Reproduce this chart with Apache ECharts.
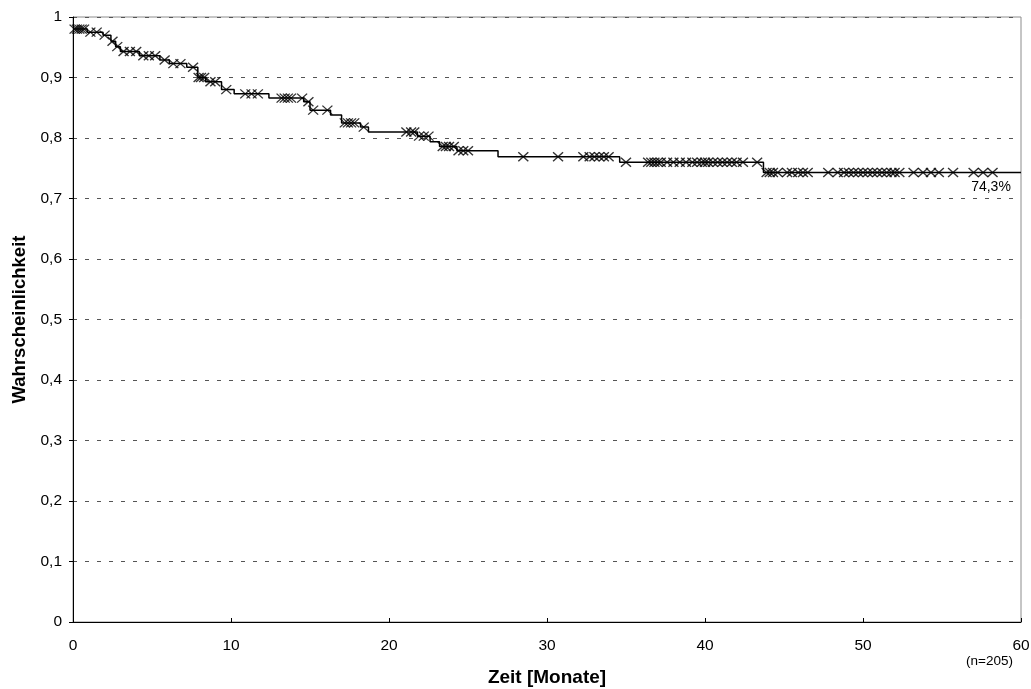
<!DOCTYPE html>
<html>
<head>
<meta charset="utf-8">
<script src="https://cdn.jsdelivr.net/npm/echarts@6/dist/echarts.min.js"></script>
<style>
  html, body { margin: 0; padding: 0; background: #fff; }
  #chart { width: 1031px; height: 689px; }
</style>
</head>
<body>
<div id="chart"></div>
<script>
// Kaplan-Meier curve: step times (months) and survival after each step
const stepTimes = [0, 0.9, 1.9, 2.4, 2.7, 3.0, 4.2, 5.5, 6.1, 7.2, 7.9, 8.4, 9.4, 10.2, 12.4,
  14.6, 15.0, 16.3, 17.0, 18.2, 18.7, 21.8, 22.6, 23.2, 24.3, 26.9, 34.6, 43.7];
const stepSurvival = [0.980, 0.975, 0.970, 0.960, 0.951, 0.943, 0.936, 0.929, 0.923, 0.917, 0.900,
  0.893, 0.880, 0.873, 0.866, 0.860, 0.846, 0.838, 0.825, 0.818, 0.810, 0.803, 0.794, 0.786,
  0.779, 0.769, 0.760, 0.743];
const followUpEnd = 60;

// censored observations (months)
const censorTimes = [0.1, 0.25, 0.4, 0.55, 0.7, 1.1, 1.5, 2.0, 2.5, 2.8, 3.2, 3.6, 4.0, 4.45, 4.8,
  5.2, 5.8, 6.35, 6.8, 7.6, 7.95, 8.1, 8.3, 8.7, 9.0, 9.7, 10.9, 11.3, 11.7, 13.2, 13.4, 13.6,
  13.8, 14.5, 14.9, 15.2, 16.1, 17.2, 17.4, 17.6, 17.8, 18.4, 21.1, 21.4, 21.6, 21.9, 22.2, 22.5,
  23.4, 23.6, 23.8, 24.1, 24.4, 24.7, 25.0, 28.5, 30.7, 32.3, 32.7, 33.0, 33.3, 33.6, 33.9, 35.0,
  36.4, 36.6, 36.8, 37.0, 37.2, 37.6, 38.0, 38.4, 38.8, 39.2, 39.5, 39.8, 40.0, 40.2, 40.5, 40.8,
  41.1, 41.4, 41.7, 42.0, 42.4, 43.3, 43.9, 44.1, 44.3, 44.6, 45.2, 45.5, 45.9, 46.2, 46.5, 47.8,
  48.4, 48.8, 49.1, 49.4, 49.7, 50.0, 50.3, 50.6, 50.9, 51.2, 51.5, 51.8, 52.0, 52.3, 53.2, 53.8,
  54.3, 54.8, 55.7, 57.0, 57.6, 58.2];

const finalLabel = '74,3%';
const sampleNote = '(n=205)';

function survivalAt(t) {
  let s = stepSurvival[0];
  for (let i = 0; i < stepTimes.length; i++) {
    if (stepTimes[i] <= t) s = stepSurvival[i];
  }
  return s;
}

const curve = stepTimes.map((t, i) => [t, stepSurvival[i]]);
curve.push([followUpEnd, stepSurvival[stepSurvival.length - 1]]);
const censored = censorTimes.map(t => [t, survivalAt(t)]);

const font = 'Liberation Sans, Arial, sans-serif';
const chart = echarts.init(document.getElementById('chart'), null, { renderer: 'canvas' });

chart.setOption({
  animation: false,
  backgroundColor: '#fff',
  grid: {
    left: 73, right: 10, top: 17, bottom: 67, containLabel: false, outerBoundsMode: 'none',
    show: true, borderColor: '#8c8c8c', borderWidth: 1
  },
  xAxis: {
    type: 'value', min: 0, max: 60, interval: 10,
    name: 'Zeit [Monate]', nameLocation: 'middle', nameGap: 46,
    nameTextStyle: { fontFamily: font, fontSize: 19, fontWeight: 'bold', color: '#000' },
    axisLine: { show: true, onZero: false, lineStyle: { color: '#000', width: 1 } },
    axisTick: { show: true, inside: true, length: 4, lineStyle: { color: '#000' } },
    axisLabel: { fontFamily: font, fontSize: 15.5, color: '#000', margin: 16 },
    splitLine: { show: false }
  },
  yAxis: {
    type: 'value', min: 0, max: 1, interval: 0.1,
    name: 'Wahrscheinlichkeit', nameLocation: 'middle', nameGap: 43, nameRotate: 90,
    nameTextStyle: { fontFamily: font, fontSize: 18.5, fontWeight: 'bold', color: '#000' },
    axisLine: { show: true, lineStyle: { color: '#000', width: 1 } },
    axisTick: { show: true, length: 4, lineStyle: { color: '#000' } },
    axisLabel: {
      fontFamily: font, fontSize: 15.5, color: '#000', margin: 11,
      formatter: v => (Math.round(v * 10) / 10).toString().replace('.', ',')
    },
    splitLine: { show: true, lineStyle: { color: '#555', type: [4, 8], width: 1 } }
  },
  graphic: [
    { type: 'text', left: 966, top: 654, style: { text: sampleNote, font: '13.5px ' + font, fill: '#000' } }
  ],
  series: [
    {
      type: 'line', step: 'end', data: curve, showSymbol: false, symbol: 'none',
      lineStyle: { color: '#000', width: 1.5 },
      markPoint: {
        symbol: 'circle', symbolSize: 0,
        data: [{ coord: [58.1, stepSurvival[stepSurvival.length - 1]],
          label: { show: true, formatter: finalLabel, position: 'bottom', distance: 8,
            fontFamily: font, fontSize: 14, color: '#000' } }]
      },
      z: 2
    },
    {
      type: 'scatter', data: censored,
      symbol: 'path://M0,0L10,9M10,0L0,9', symbolSize: [10, 9],
      itemStyle: { color: 'rgba(0,0,0,0)', borderColor: '#000', borderWidth: 1.3 },
      z: 3
    }
  ]
});
</script>
</body>
</html>
